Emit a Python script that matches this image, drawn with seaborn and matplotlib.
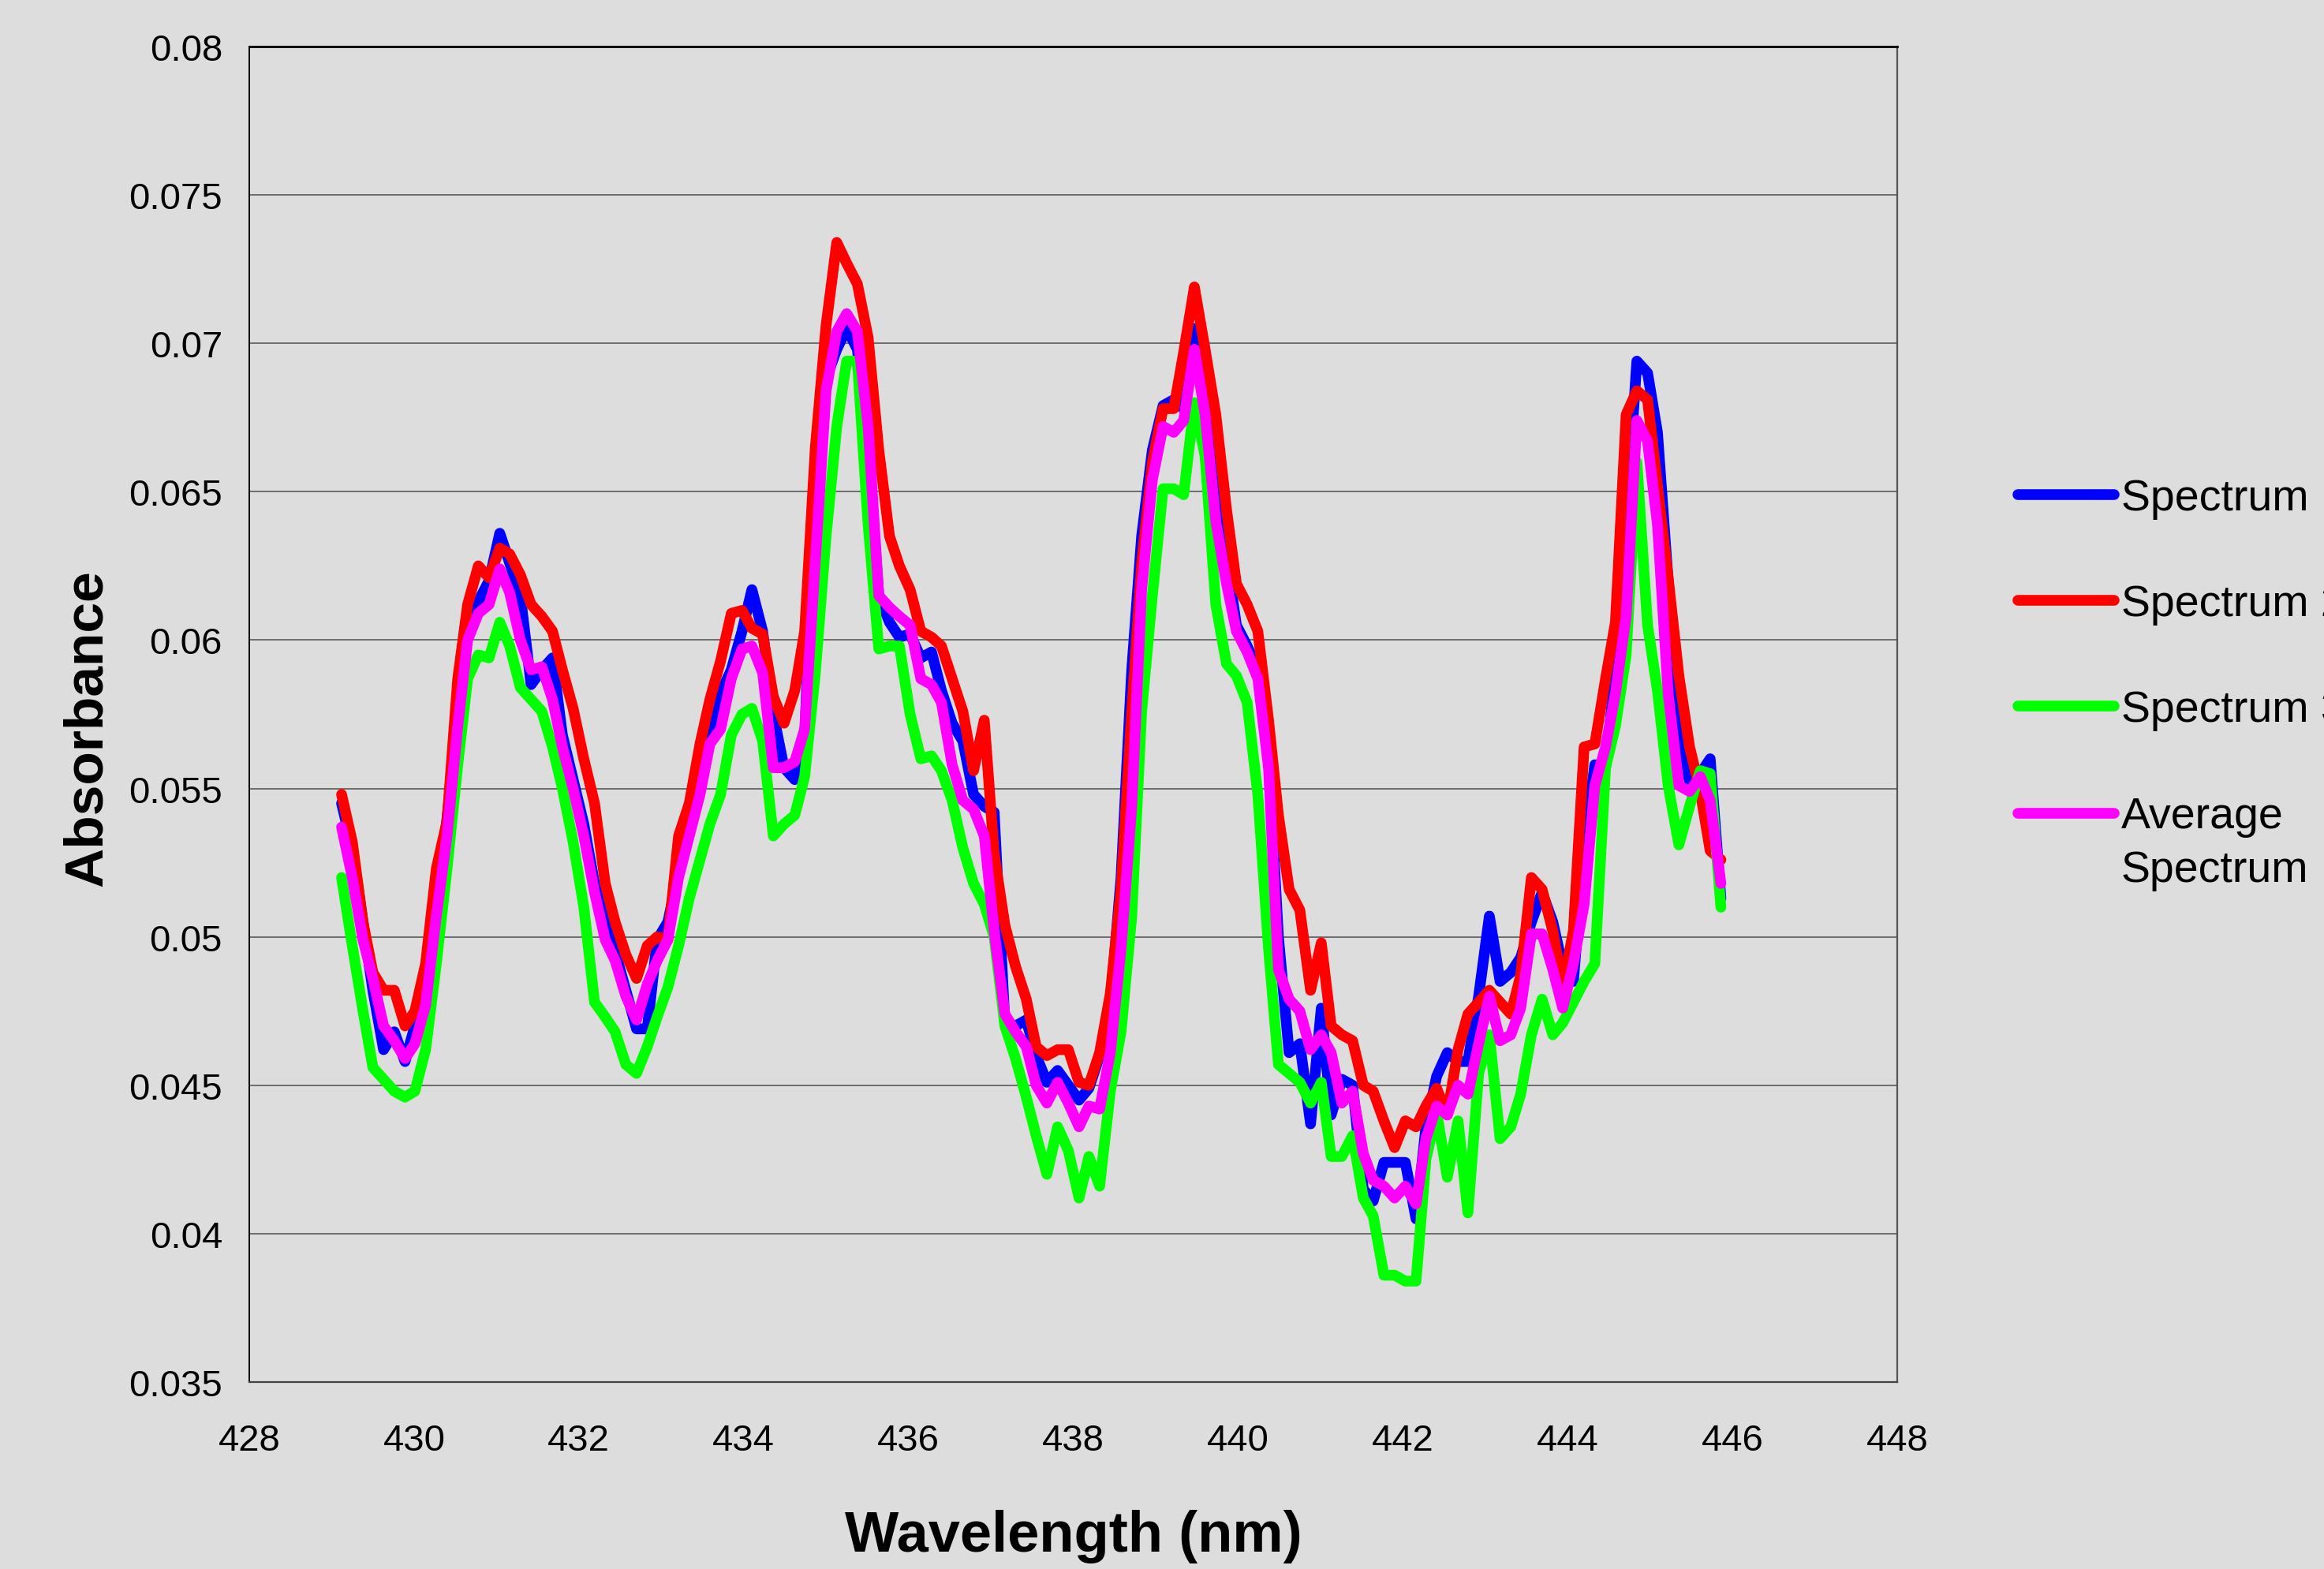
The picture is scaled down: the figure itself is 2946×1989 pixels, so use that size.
import numpy as np
import pandas as pd
import matplotlib
matplotlib.use("Agg")
import matplotlib.pyplot as plt
import seaborn as sns

# ---------------- data ----------------
wavelength = [
    429.12, 429.25, 429.38, 429.50, 429.63, 429.76, 429.89, 430.01, 430.14, 430.27,
    430.40, 430.53, 430.65, 430.78, 430.91, 431.04, 431.16, 431.29, 431.42, 431.55,
    431.68, 431.80, 431.93, 432.06, 432.19, 432.32, 432.44, 432.57, 432.70, 432.83,
    432.95, 433.08, 433.21, 433.34, 433.47, 433.59, 433.72, 433.85, 433.98, 434.10,
    434.23, 434.36, 434.49, 434.62, 434.74, 434.87, 435.00, 435.13, 435.25, 435.38,
    435.51, 435.64, 435.77, 435.89, 436.02, 436.15, 436.28, 436.40, 436.53, 436.66,
    436.79, 436.92, 437.04, 437.17, 437.30, 437.43, 437.55, 437.68, 437.81, 437.94,
    438.07, 438.19, 438.32, 438.45, 438.58, 438.71, 438.83, 438.96, 439.09, 439.22,
    439.34, 439.47, 439.60, 439.73, 439.86, 439.98, 440.11, 440.24, 440.37, 440.49,
    440.62, 440.75, 440.88, 441.01, 441.13, 441.26, 441.39, 441.52, 441.64, 441.77,
    441.90, 442.03, 442.16, 442.28, 442.41, 442.54, 442.67, 442.79, 442.92, 443.05,
    443.18, 443.31, 443.43, 443.56, 443.69, 443.82, 443.94, 444.07, 444.20, 444.33,
    444.46, 444.58, 444.71, 444.84, 444.97, 445.09, 445.22, 445.35, 445.48, 445.61,
    445.73, 445.86,
]

spectrum_1 = [
    0.0545, 0.0530, 0.0505, 0.0482, 0.0462, 0.0468, 0.0458, 0.0470, 0.0478, 0.0508,
    0.0540, 0.0575, 0.0605, 0.0613, 0.0620, 0.0636, 0.0626, 0.0615, 0.0585, 0.0590,
    0.0594, 0.0568, 0.0553, 0.0538, 0.0518, 0.0504, 0.0495, 0.0482, 0.0469, 0.0469,
    0.0499, 0.0505, 0.0522, 0.0538, 0.0555, 0.0570, 0.0582, 0.0590, 0.0603, 0.0617,
    0.0603, 0.0575, 0.0557, 0.0553, 0.0566, 0.0662, 0.0688, 0.0698, 0.0705, 0.0698,
    0.0664, 0.0615, 0.0606, 0.0601, 0.0602, 0.0594, 0.0596, 0.0583, 0.0572, 0.0566,
    0.0548, 0.0544, 0.0542, 0.0471, 0.0470, 0.0472, 0.0460, 0.0451, 0.0455, 0.0450,
    0.0445, 0.0449, 0.0460, 0.0477, 0.0520, 0.0590, 0.0635, 0.0664, 0.0679, 0.0681,
    0.0678, 0.0705, 0.0680, 0.0650, 0.0628, 0.0605, 0.0598, 0.0590, 0.0560, 0.0500,
    0.0461, 0.0464, 0.0437, 0.0476, 0.0440, 0.0452, 0.0450, 0.0415, 0.0411, 0.0424,
    0.0424, 0.0424, 0.0405, 0.0436, 0.0453, 0.0461, 0.0458, 0.0458, 0.0480, 0.0507,
    0.0485, 0.0488, 0.0493, 0.0505, 0.0515, 0.0505, 0.0490, 0.0485, 0.0530, 0.0558,
    0.0557, 0.0590, 0.0640, 0.0694, 0.0690, 0.0670, 0.0620, 0.0575, 0.0552, 0.0555,
    0.0560, 0.0513,
]

spectrum_2 = [
    0.0548, 0.0532, 0.0505, 0.0488, 0.0482, 0.0482, 0.0470, 0.0475, 0.0491, 0.0523,
    0.0539, 0.0587, 0.0612, 0.0625, 0.0621, 0.0631, 0.0629, 0.0622, 0.0612, 0.0608,
    0.0603, 0.0590, 0.0577, 0.0560, 0.0545, 0.0518, 0.0505, 0.0494, 0.0486, 0.0497,
    0.0500, 0.0499, 0.0534, 0.0545, 0.0565, 0.0580, 0.0593, 0.0609, 0.0610, 0.0604,
    0.0602, 0.0581, 0.0572, 0.0583, 0.0603, 0.0665, 0.0706, 0.0734, 0.0727, 0.0720,
    0.0702, 0.0664, 0.0635, 0.0625, 0.0617, 0.0603, 0.0601, 0.0598, 0.0587, 0.0576,
    0.0556, 0.0573, 0.0528, 0.0504, 0.0490, 0.0479, 0.0463, 0.0460, 0.0462, 0.0462,
    0.0451, 0.0450, 0.0461, 0.0481, 0.0516, 0.0576, 0.0626, 0.0660, 0.0678, 0.0678,
    0.0697, 0.0719, 0.0698, 0.0676, 0.0644, 0.0619, 0.0612, 0.0603, 0.0573, 0.0541,
    0.0516, 0.0509, 0.0482, 0.0498, 0.0470, 0.0467, 0.0465, 0.0450, 0.0448, 0.0438,
    0.0429, 0.0438, 0.0436, 0.0443, 0.0449, 0.0440, 0.0462, 0.0474, 0.0478, 0.0482,
    0.0478, 0.0474, 0.0487, 0.0520, 0.0516, 0.0502, 0.0483, 0.0502, 0.0564, 0.0565,
    0.0587, 0.0606, 0.0676, 0.0684, 0.0681, 0.0652, 0.0621, 0.0588, 0.0564, 0.0549,
    0.0529, 0.0526,
]

spectrum_3 = [
    0.0520, 0.0497, 0.0475, 0.0456, 0.0452, 0.0448, 0.0446, 0.0448, 0.0462, 0.0491,
    0.0523, 0.0558, 0.0587, 0.0595, 0.0594, 0.0606, 0.0598, 0.0584, 0.0580, 0.0576,
    0.0564, 0.0550, 0.0532, 0.0510, 0.0478, 0.0473, 0.0468, 0.0457, 0.0454, 0.0463,
    0.0473, 0.0483, 0.0497, 0.0513, 0.0526, 0.0538, 0.0548, 0.0568, 0.0575, 0.0577,
    0.0566, 0.0534, 0.0538, 0.0541, 0.0554, 0.0589, 0.0635, 0.0672, 0.0694, 0.0694,
    0.0639, 0.0597, 0.0598, 0.0598, 0.0575, 0.0560, 0.0561, 0.0556, 0.0546, 0.0530,
    0.0518, 0.0511, 0.0500, 0.0470, 0.0459, 0.0446, 0.0433, 0.0420, 0.0436, 0.0428,
    0.0412, 0.0426, 0.0416, 0.0448, 0.0468, 0.0507, 0.0576, 0.0615, 0.0651, 0.0651,
    0.0649, 0.0680, 0.0662, 0.0612, 0.0592, 0.0588, 0.0579, 0.0548, 0.0496, 0.0457,
    0.0454, 0.0451, 0.0444, 0.0451, 0.0426, 0.0426, 0.0433, 0.0412, 0.0406, 0.0386,
    0.0386, 0.0384, 0.0384, 0.0425, 0.0441, 0.0419, 0.0438, 0.0407, 0.0454, 0.0467,
    0.0432, 0.0436, 0.0447, 0.0467, 0.0479, 0.0467, 0.0471, 0.0478, 0.0485, 0.0491,
    0.0557, 0.0571, 0.0595, 0.0660, 0.0605, 0.0583, 0.0551, 0.0531, 0.0544, 0.0556,
    0.0555, 0.0510,
]

average_spectrum = [
    0.0537, 0.0520, 0.0499, 0.0486, 0.0470, 0.0465, 0.0459, 0.0464, 0.0477, 0.0507,
    0.0534, 0.0571, 0.0600, 0.0609, 0.0612, 0.0624, 0.0616, 0.0600, 0.0590, 0.0591,
    0.0580, 0.0564, 0.0550, 0.0534, 0.0515, 0.0499, 0.0492, 0.0480, 0.0472, 0.0484,
    0.0492, 0.0499, 0.0520, 0.0534, 0.0548, 0.0565, 0.0570, 0.0587, 0.0597, 0.0598,
    0.0589, 0.0557, 0.0557, 0.0559, 0.0570, 0.0627, 0.0684, 0.0704, 0.0710, 0.0704,
    0.0672, 0.0615, 0.0611, 0.0608, 0.0605, 0.0587, 0.0585, 0.0579, 0.0558, 0.0546,
    0.0543, 0.0534, 0.0502, 0.0474, 0.0468, 0.0463, 0.0450, 0.0444, 0.0451, 0.0444,
    0.0436, 0.0443, 0.0442, 0.0461, 0.0496, 0.0544, 0.0617, 0.0654, 0.0672, 0.0670,
    0.0674, 0.0698, 0.0676, 0.0640, 0.0619, 0.0603, 0.0596, 0.0587, 0.0557, 0.0489,
    0.0479, 0.0475, 0.0462, 0.0467, 0.0461, 0.0444, 0.0448, 0.0427, 0.0418, 0.0416,
    0.0412, 0.0416, 0.0410, 0.0432, 0.0443, 0.0440, 0.0450, 0.0447, 0.0464, 0.0480,
    0.0465, 0.0467, 0.0476, 0.0501, 0.0501, 0.0489, 0.0476, 0.0491, 0.0511, 0.0551,
    0.0564, 0.0582, 0.0608, 0.0674, 0.0667, 0.0639, 0.0582, 0.0551, 0.0549, 0.0554,
    0.0546, 0.0518,
]

series_names = ["Spectrum 1", "Spectrum 2", "Spectrum 3", "Average Spectrum"]
legend_labels = ["Spectrum 1", "Spectrum 2", "Spectrum 3", "Average\nSpectrum"]
series_colors = ["#0000FF", "#FF0000", "#00FF00", "#FF00FF"]

x_ticks = [428, 430, 432, 434, 436, 438, 440, 442, 444, 446, 448]
y_ticks = [0.035, 0.04, 0.045, 0.05, 0.055, 0.06, 0.065, 0.07, 0.075, 0.08]
y_tick_labels = ["0.035", "0.04", "0.045", "0.05", "0.055", "0.06", "0.065", "0.07", "0.075", "0.08"]

# ---------------- build long table ----------------
frames = []
for name, vals in zip(series_names,
                      [spectrum_1, spectrum_2, spectrum_3, average_spectrum]):
    frames.append(pd.DataFrame({"Wavelength (nm)": wavelength,
                                "Absorbance": vals,
                                "Series": name}))
df = pd.concat(frames, ignore_index=True)

# ---------------- style ----------------
BG = "#DDDDDD"
sns.set_style("white")
plt.rcParams["font.family"] = ["Liberation Sans", "DejaVu Sans"]
plt.rcParams["text.color"] = "black"
plt.rcParams["axes.labelcolor"] = "black"
plt.rcParams["xtick.color"] = "black"
plt.rcParams["ytick.color"] = "black"

W, H = 2946, 1990
fig = plt.figure(figsize=(W / 100, H / 100), dpi=100, facecolor=BG)
L, R, T, B = 316, 2405, 60, 1753
ax = fig.add_axes([L / W, 1 - B / H, (R - L) / W, (B - T) / H])
ax.set_facecolor(BG)
ax.set_axisbelow(True)

LW = 9.8
sns.lineplot(data=df, x="Wavelength (nm)", y="Absorbance", hue="Series",
             hue_order=series_names, palette=series_colors,
             estimator=None, sort=False, linewidth=LW,
             solid_capstyle="round", solid_joinstyle="round", ax=ax)

ax.set_xlim(428, 448)
ax.set_ylim(0.035, 0.08)
ax.set_xticks(x_ticks)
ax.set_xticklabels([str(t) for t in x_ticks])
ax.set_yticks(y_ticks)
ax.set_yticklabels(y_tick_labels)

ax.tick_params(axis="both", direction="out", length=9.5, width=1.3,
               color="#333333", labelsize=34, labelcolor="black")
ax.tick_params(axis="x", pad=28)
ax.tick_params(axis="y", pad=15)

ax.yaxis.grid(True, color="#5a5a5a", linewidth=1.2)
ax.xaxis.grid(False)

ax.spines["left"].set_color("black")
ax.spines["left"].set_linewidth(1.4)
ax.spines["top"].set_color("black")
ax.spines["top"].set_linewidth(2.0)
ax.spines["right"].set_color("#555555")
ax.spines["right"].set_linewidth(1.6)
ax.spines["bottom"].set_color("#444444")
ax.spines["bottom"].set_linewidth(1.6)

ax.set_xlabel("Wavelength (nm)", fontsize=52, fontweight="bold", color="black")
ax.xaxis.set_label_coords(0.5, -0.095)
ax.set_ylabel("Absorbance", fontsize=50, fontweight="bold", color="black")
ax.yaxis.set_label_coords(-0.083, 0.49)

# ---------------- legend ----------------
handles, _ = ax.get_legend_handles_labels()
if ax.get_legend() is not None:
    ax.get_legend().remove()
LEG_FS = 40
leg = fig.legend(handles[:4], legend_labels, loc="upper left",
                 bbox_to_anchor=(2558 / W, 1 - 607 / H),
                 frameon=False, fontsize=LEG_FS, handlelength=2.2,
                 handletextpad=0.15, labelspacing=1.48,
                 borderpad=0, borderaxespad=0)
for h, c in zip(leg.legend_handles, series_colors):
    h.set_linewidth(LW)
    h.set_color(c)
    h.set_solid_capstyle("round")
for t in leg.get_texts():
    t.set_color("black")
leg.get_texts()[3].set_linespacing(1.42)
# align the handle of the two-line entry with its first text line
last = leg.legend_handles[3]
last.set_ydata(np.asarray(last.get_ydata(), dtype=float) + 27.5)

fig.savefig("out.png", dpi=100, facecolor=BG)
